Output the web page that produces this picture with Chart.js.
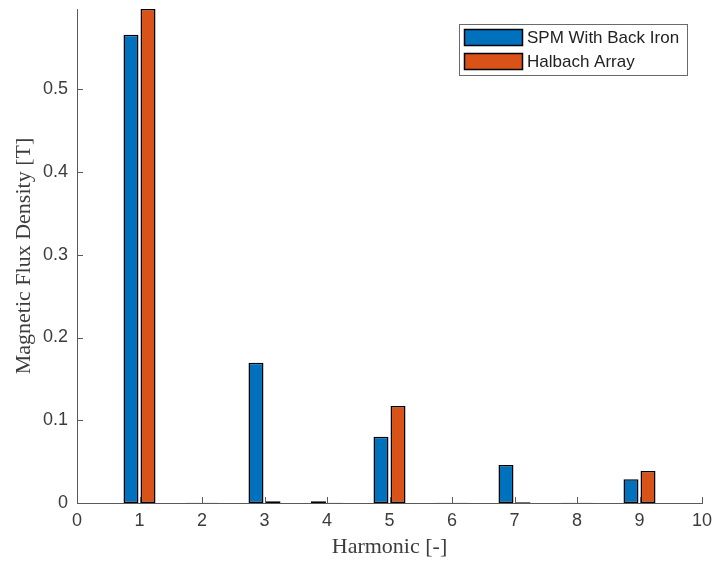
<!DOCTYPE html>
<html>
<head>
<meta charset="utf-8">
<script src="https://cdn.jsdelivr.net/npm/chart.js@4/dist/chart.umd.min.js"></script>
<style>
  html, body { margin: 0; padding: 0; background: #fff; }
  #wrap { width: 714px; height: 565px; }
</style>
</head>
<body>
<div id="wrap"><canvas id="c" width="714" height="565"></canvas></div>
<script>
// Harmonic spectrum of the air-gap flux density for two magnet layouts
const harmonics = [1, 2, 3, 4, 5, 6, 7, 8, 9];
const spmBackIron = [0.566, 0.0004, 0.1695, 0.002, 0.080, 0.0004, 0.0459, 0.0004, 0.0286];
const halbachArray = [0.597, 0.0004, 0.002, 0.0004, 0.1172, 0.0004, 0.001, 0.0004, 0.0387];
const seriesNames = ['SPM With Back Iron', 'Halbach Array'];
const seriesColors = ['#0072BD', '#D95319'];
const xTicks = [0, 1, 2, 3, 4, 5, 6, 7, 8, 9, 10];
const yTicks = [0, 0.1, 0.2, 0.3, 0.4, 0.5];
const yMax = 0.597;

const axisColor = '#5a5a5a';
const textColor = '#3c3c3c';
const tickFont = { family: 'Liberation Sans, Arial, sans-serif', size: 18 };
const titleFont = { family: 'Liberation Serif, Times New Roman, serif', size: 22 };

// MATLAB-style ticks pointing into the plot area
const inwardTicks = {
  id: 'inwardTicks',
  afterDraw(chart) {
    const { ctx, chartArea, scales } = chart;
    ctx.save();
    ctx.strokeStyle = axisColor;
    ctx.lineWidth = 1;
    ctx.beginPath();
    scales.y.ticks.forEach(t => {
      const y = Math.round(scales.y.getPixelForValue(t.value)) + 0.5;
      ctx.moveTo(chartArea.left, y);
      ctx.lineTo(chartArea.left + 6, y);
    });
    scales.x.ticks.forEach(t => {
      const x = Math.round(scales.x.getPixelForValue(t.value)) + 0.5;
      ctx.moveTo(x, chartArea.bottom);
      ctx.lineTo(x, chartArea.bottom - 6);
    });
    ctx.stroke();
    ctx.restore();
  }
};

// Boxed legend in the upper right corner of the axes
const boxedLegend = {
  id: 'boxedLegend',
  afterDraw(chart) {
    const { ctx } = chart;
    const sets = chart.data.datasets;
    const bx = 459, by = 24, bw = 228, bh = 51;
    ctx.save();
    ctx.fillStyle = '#fff';
    ctx.fillRect(bx, by, bw, bh);
    ctx.strokeStyle = '#6a6a6a';
    ctx.lineWidth = 1;
    ctx.strokeRect(bx + 0.5, by + 0.5, bw, bh);
    ctx.font = '17px ' + tickFont.family;
    ctx.textBaseline = 'middle';
    ctx.textAlign = 'left';
    sets.forEach((ds, i) => {
      const sy = by + 5 + i * 24;
      ctx.fillStyle = ds.backgroundColor;
      ctx.fillRect(bx + 5, sy, 59, 17);
      ctx.strokeStyle = '#000';
      ctx.lineWidth = 1.5;
      ctx.strokeRect(bx + 5.5, sy + 0.5, 58, 16);
      ctx.fillStyle = '#222';
      ctx.fillText(ds.label, bx + 68, sy + 9);
    });
    ctx.restore();
  }
};

const makeSeries = (vals) => harmonics.map((h, i) => ({ x: h, y: vals[i] }));

new Chart(document.getElementById('c'), {
  type: 'bar',
  data: {
    datasets: [
      { label: seriesNames[0], data: makeSeries(spmBackIron), backgroundColor: seriesColors[0],
        borderColor: '#000', borderWidth: 1.5, borderSkipped: false },
      { label: seriesNames[1], data: makeSeries(halbachArray), backgroundColor: seriesColors[1],
        borderColor: '#000', borderWidth: 1.5, borderSkipped: false }
    ]
  },
  options: {
    responsive: false,
    animation: false,
    devicePixelRatio: 1,
    categoryPercentage: 0.545,
    barPercentage: 0.88,
    layout: { padding: { top: 9, right: 12, left: 0, bottom: 0 } },
    plugins: { legend: { display: false }, tooltip: { enabled: false } },
    scales: {
      x: {
        type: 'linear',
        min: 0, max: 10,
        offset: false,
        grid: { display: false, drawTicks: false },
        border: { display: true, color: axisColor, width: 1 },
        ticks: { font: tickFont, color: textColor, padding: 7, maxRotation: 0, autoSkip: false },
        title: { display: true, text: 'Harmonic [-]', font: titleFont, color: textColor,
                 padding: { top: 0, bottom: 5 } },
        afterBuildTicks: s => { s.ticks = xTicks.map(v => ({ value: v })); },
        afterFit: s => { s.height = 62; s.paddingLeft = 0; s.paddingRight = 0; }
      },
      y: {
        min: 0, max: yMax,
        grid: { display: false, drawTicks: false },
        border: { display: true, color: axisColor, width: 1 },
        ticks: { font: tickFont, color: textColor, padding: 9 },
        title: { display: true, text: 'Magnetic Flux Density [T]', font: titleFont, color: textColor,
                 padding: { top: 11, bottom: 0 } },
        afterBuildTicks: s => { s.ticks = yTicks.map(v => ({ value: v })); },
        afterFit: s => { s.width = 77; s.paddingTop = 0; s.paddingBottom = 0; }
      }
    }
  },
  plugins: [inwardTicks, boxedLegend]
});
</script>
</body>
</html>
